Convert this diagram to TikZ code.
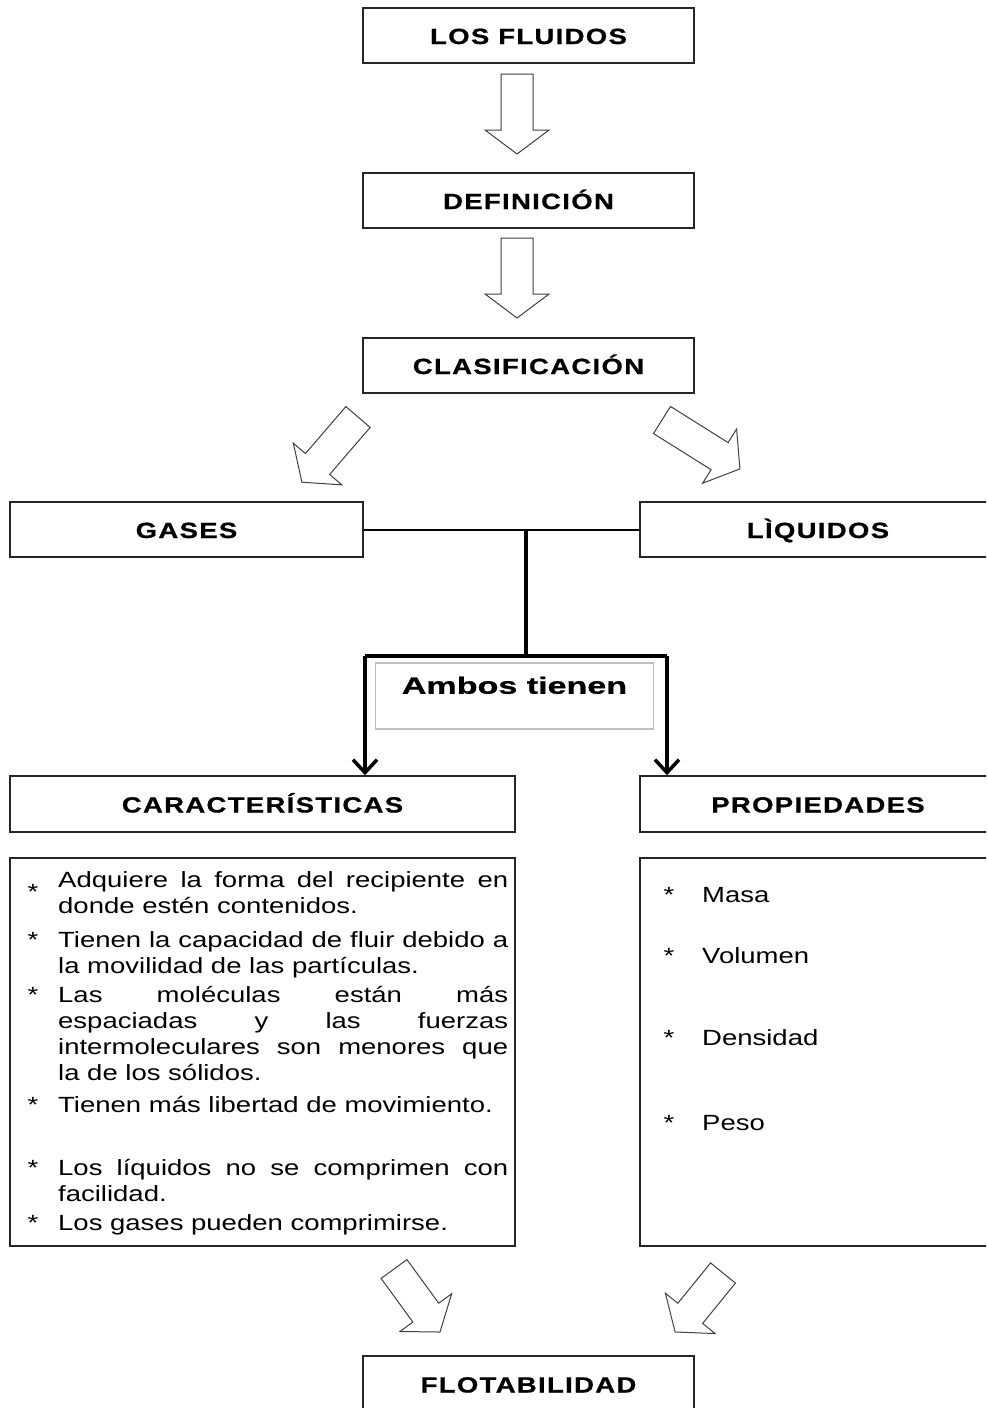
\documentclass[tikz,border=0pt]{standalone}
\usepackage{fontspec}
\setmainfont{Liberation Sans}[FakeStretch=1.25]
\newfontfamily\headfont{Liberation Sans}[FakeStretch=1.25,LetterSpace=6,BoldFeatures={FakeBold=0.8}]
\newfontfamily\ambosfont{Liberation Sans}[FakeStretch=1.45,BoldFeatures={FakeBold=0.8}]
\usetikzlibrary{arrows.meta}

\tikzset{
  titlebox/.style={draw=black!85, line width=1.5pt, minimum height=55pt, inner sep=0pt,
    text height=17pt, text depth=0pt,
    font=\headfont\bfseries\fontsize{22}{26}\selectfont},
  listbox/.style={draw=black!85, line width=1.5pt, inner sep=0pt},
  bodytext/.style={inner sep=0pt, font=\fontsize{22}{26}\selectfont},
  itemtext/.style={bodytext, anchor=base west, text width=450pt, align=justify},
  star/.style={inner sep=0pt, anchor=base, font=\fontsize{22}{26}\selectfont},
  blockarrow/.style={draw=black!75, line width=1pt, fill=white},
  thinline/.style={line width=2pt},
  thickline/.style={line width=4.5pt},
  downarrow/.style={line width=3.5pt, -{Straight Barb[length=13pt,width=24pt]}}
}

% flecha de bloque: cola (x,y), angulo, largo
\newcommand{\flecha}[4]{%
  \draw[blockarrow, shift={(#1,#2)}, rotate=#3]
    (0,16) -- ({#4-24},16) -- ({#4-24},32) -- (#4,0) -- ({#4-24},-32)
    -- ({#4-24},-16) -- (0,-16) -- cycle;}

\begin{document}
\begin{tikzpicture}[x=1pt,y=-1pt]
\clip (0,0) rectangle (986,1408);
\fill[white] (0,0) rectangle (986,1408);

\node[titlebox, minimum width=331pt] (fluidos) at (528.5,35.5) {LOS FLUIDOS};
\node[titlebox, minimum width=331pt] (definicion) at (528.5,200.5) {DEFINICIÓN};
\node[titlebox, minimum width=331pt] (clasif) at (528.5,365.5) {CLASIFICACIÓN};
\node[titlebox, minimum width=353pt] (gases) at (186.5,529.5) {GASES};
\node[titlebox, minimum width=356pt] (liquidos) at (818,529.5) {LÌQUIDOS};
\node[titlebox, minimum width=505pt, minimum height=56pt] (caract) at (262.5,804) {CARACTERÍSTICAS};
\node[titlebox, minimum width=356pt, minimum height=56pt] (propied) at (818,804) {PROPIEDADES};
\node[titlebox, minimum width=331pt, minimum height=56pt] (flotab) at (528.5,1384) {FLOTABILIDAD};

\node[draw=black!25, line width=1.5pt, inner sep=0pt, anchor=north,
  minimum width=278pt, text height=31pt, text depth=35pt,
  font=\ambosfont\bfseries\fontsize{23.5}{26}\selectfont] (ambos) at (514.5,662) {Ambos tienen};

\flecha{517}{74}{-90}{80}
\flecha{517}{238}{-90}{80}
\flecha{358}{417}{229.3}{86}
\flecha{662}{420}{-32.1}{92}
\flecha{394}{1269}{-53.9}{78}
\flecha{723}{1273}{230.9}{76}

\coordinate (junc) at (526,531);
\coordinate (stem) at (526,656);
\coordinate (splitL) at (365,656);
\coordinate (splitR) at (667,656);
\draw[thinline] (gases.east) -- (liquidos.west);
\draw[thickline] (junc) -- (stem);
\draw[thickline] (splitL) -- (splitR);
\draw[downarrow] (splitL) -- (splitL |- caract.north);
\draw[downarrow] (splitR) -- (splitR |- propied.north);

\node[listbox, minimum width=505pt, minimum height=388pt] (caractlist) at (262.5,1052) {};
\node[listbox, minimum width=356pt, minimum height=388pt] (proplist) at (818,1052) {};

\node[star] (s1) at (33,899) {*};
\node[star] (s2) at (33,947) {*};
\node[star] (s3) at (33,1002) {*};
\node[star] (s4) at (33,1112) {*};
\node[star] (s5) at (33,1175) {*};
\node[star] (s6) at (33,1230) {*};
\node[itemtext] (c1) at (58,887) {Adquiere la forma del recipiente en\linebreak donde estén contenidos.};
\node[itemtext] (c2) at (58,947) {Tienen la capacidad de fluir debido a\linebreak la movilidad de las partículas.};
\node[itemtext] (c3) at (58,1002) {Las moléculas están más\linebreak espaciadas y las fuerzas\linebreak intermoleculares son menores que\linebreak la de los sólidos.};
\node[itemtext] (c4) at (58,1112) {Tienen más libertad de movimiento.};
\node[itemtext] (c5) at (58,1175) {Los líquidos no se comprimen con\linebreak facilidad.};
\node[itemtext] (c6) at (58,1230) {Los gases pueden comprimirse.};

\node[star] (t1) at (669,902) {*};
\node[star] (t2) at (669,963) {*};
\node[star] (t3) at (669,1045) {*};
\node[star] (t4) at (669,1130) {*};
\node[bodytext, anchor=base west] (p1) at (702,902) {Masa};
\node[bodytext, anchor=base west] (p2) at (702,963) {Volumen};
\node[bodytext, anchor=base west] (p3) at (702,1045) {Densidad};
\node[bodytext, anchor=base west] (p4) at (702,1130) {Peso};
\end{tikzpicture}
\end{document}
